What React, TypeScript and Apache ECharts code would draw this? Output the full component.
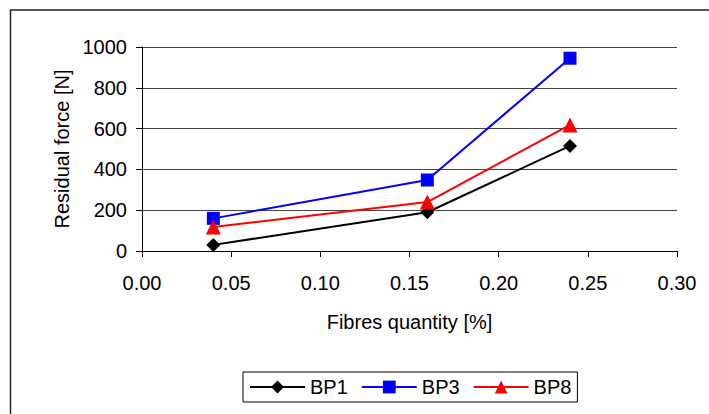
import React, { useEffect, useRef } from "react";
import * as echarts from "echarts";

const fibres = [0.04, 0.16, 0.24];
const bp1 = [30, 190, 515];
const bp3 = [160, 348, 945];
const bp8 = [118, 240, 618];
const seriesNames = ["BP1", "BP3", "BP8"];
const xTitle = "Fibres quantity [%]";
const yTitle = "Residual force [N]";

const FONT = "'Liberation Sans', Arial, sans-serif";

export default function App() {
  const ref = useRef<HTMLDivElement>(null);
  useEffect(() => {
    if (!ref.current) return;
    const chart = echarts.init(ref.current, null, { renderer: "svg" });
    const mk = (vals: number[]) => fibres.map((x, i) => [x, vals[i]]);
    chart.setOption({
      animation: false,
      backgroundColor: "#fff",
      textStyle: { fontFamily: FONT },
      grid: { left: 142, right: 32, top: 47, bottom: 163 },
      graphic: [
        {
          type: "rect",
          shape: { x: 10.5, y: 10, width: 900, height: 600 },
          style: { fill: "none", stroke: "#222", lineWidth: 1.5 },
          silent: true,
        },
      ],
      xAxis: {
        type: "value",
        min: 0,
        max: 0.3,
        interval: 0.05,
        name: xTitle,
        nameLocation: "middle",
        nameGap: 61,
        nameTextStyle: { fontSize: 20, color: "#000", fontFamily: FONT },
        axisLine: { show: true, onZero: false, lineStyle: { color: "#000", width: 1 } },
        axisTick: { show: true, length: 6, lineStyle: { color: "#000" } },
        axisLabel: {
          fontSize: 20,
          color: "#000",
          margin: 22,
          fontFamily: FONT,
          formatter: (v: number) => v.toFixed(2),
        },
        splitLine: { show: false },
      },
      yAxis: {
        type: "value",
        min: 0,
        max: 1000,
        interval: 200,
        name: yTitle,
        nameLocation: "middle",
        nameGap: 55,
        nameTextStyle: { fontSize: 20, color: "#000", fontFamily: FONT },
        axisLine: { show: true, lineStyle: { color: "#000", width: 1 } },
        axisTick: { show: true, length: 6, lineStyle: { color: "#000" } },
        axisLabel: {
          fontSize: 20,
          color: "#000",
          margin: 15,
          fontFamily: FONT,
          formatter: (v: number) => String(v),
        },
        splitLine: { show: true, lineStyle: { color: "#444", width: 1 } },
      },
      legend: {
        left: 243,
        top: 372,
        padding: [5, 6, 5, 6],
        borderColor: "#000",
        borderWidth: 1,
        itemWidth: 55,
        itemHeight: 16,
        itemGap: 13,
        textStyle: { fontSize: 20, color: "#000", fontFamily: FONT },
        data: seriesNames,
      },
      series: [
        {
          name: seriesNames[0],
          type: "line",
          data: mk(bp1),
          symbol: "diamond",
          symbolSize: 14,
          color: "#000000",
          lineStyle: { width: 2, color: "#000000" },
          itemStyle: { color: "#000000" },
        },
        {
          name: seriesNames[1],
          type: "line",
          data: mk(bp3),
          symbol: "rect",
          symbolSize: 13,
          color: "#0000ff",
          lineStyle: { width: 2, color: "#0000ff" },
          itemStyle: { color: "#0000ff" },
        },
        {
          name: seriesNames[2],
          type: "line",
          data: mk(bp8),
          symbol: "triangle",
          symbolSize: 15,
          color: "#ff0000",
          lineStyle: { width: 2, color: "#ff0000" },
          itemStyle: { color: "#ff0000" },
        },
      ],
    });
    return () => chart.dispose();
  }, []);
  return (
    <div
      ref={ref}
      style={{ position: "absolute", left: 0, top: 0, width: 709, height: 414 }}
    />
  );
}
